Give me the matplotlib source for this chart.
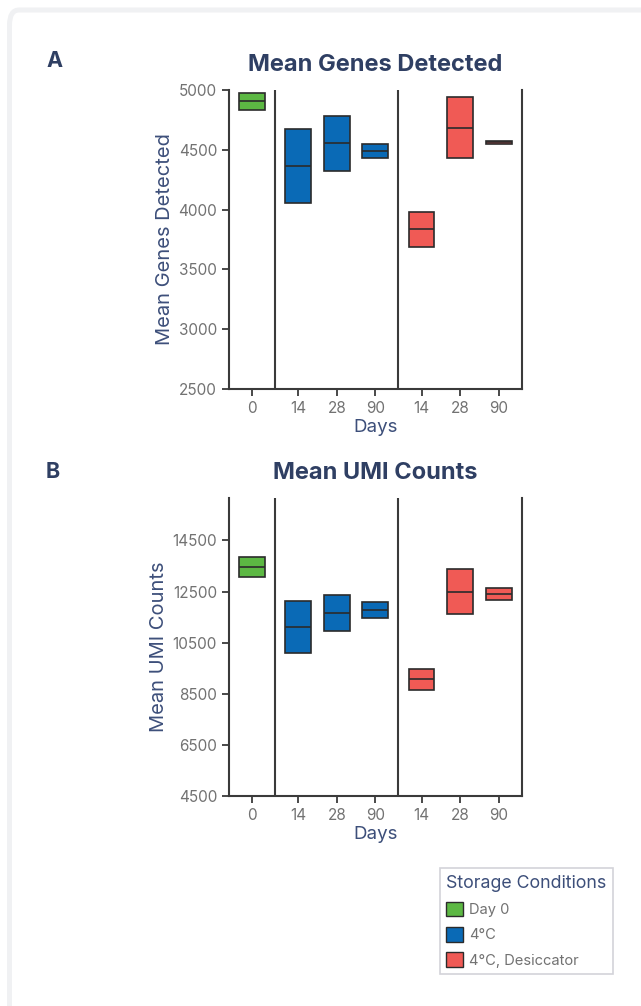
import matplotlib.pyplot as plt
from matplotlib.patches import FancyBboxPatch, Patch

plt.rcParams['font.family'] = ['Inter', 'DejaVu Sans']

DAYS = ['0', '14', '28', '90', '14', '28', '90']
CONDITIONS = ['Day 0', '4°C', '4°C, Desiccator']
GROUP = [0, 1, 1, 1, 2, 2, 2]
POSITIONS = [0, 1.2, 2.2, 3.2, 4.4, 5.4, 6.4]
DIVIDERS = [0.6, 3.8]

GENES_LOW = [4830, 4059, 4327, 4428, 3690, 4428, 4551]
GENES_MED = [4905, 4364, 4556, 4489, 3835, 4682, 4562]
GENES_HIGH = [4978, 4671, 4782, 4547, 3977, 4939, 4573]

UMI_LOW = [13051, 10101, 10963, 11484, 8640, 11617, 12166]
UMI_MED = [13457, 11132, 11668, 11798, 9071, 12491, 12401]
UMI_HIGH = [13862, 12150, 12361, 12099, 9486, 13364, 12636]

COLORS = ['#5cb843', '#0a6ab6', '#f05a55']
NAVY = '#2f3f63'
LABEL_BLUE = '#3d4f7a'
GRAY = '#727272'
DARK = '#3a3a3a'
W = 0.67


def draw_panel(ax, low, med, high, title, ylabel, ylim, ticks):
    for x, lo, md, hi, g in zip(POSITIONS, low, med, high, GROUP):
        ax.bar(x, hi - lo, bottom=lo, width=W, color=COLORS[g],
               edgecolor='#2b2b2b', linewidth=1.2, zorder=2)
        ax.hlines(md, x - W / 2, x + W / 2, color='#2b2b2b', lw=1.2, zorder=3)
    for d in DIVIDERS:
        ax.axvline(d, color=DARK, lw=1.5, zorder=1)
    ax.set_xlim(-0.6, 7.0)
    ax.set_ylim(*ylim)
    ax.set_yticks(ticks)
    ax.set_xticks(POSITIONS)
    ax.set_xticklabels(DAYS)
    ax.spines['top'].set_visible(False)
    for s in ['left', 'right', 'bottom']:
        ax.spines[s].set_color(DARK)
        ax.spines[s].set_linewidth(1.5)
    ax.tick_params(colors=DARK, labelcolor=GRAY, labelsize=11, length=5, width=1.3)
    ax.set_title(title, fontsize=17, fontweight='bold', color=NAVY, pad=14)
    ax.set_ylabel(ylabel, fontsize=14.5, color=LABEL_BLUE, labelpad=3)
    ax.set_xlabel('Days', fontsize=13.5, color=LABEL_BLUE, labelpad=2)


fig = plt.figure(figsize=(6.41, 10.06), dpi=100)
fig.patches.append(FancyBboxPatch((9.5 / 641, 1 - 1100 / 1006), 700 / 641, 1090 / 1006,
                                  boxstyle='round,pad=0,rounding_size=0.015',
                                  transform=fig.transFigure, facecolor='white',
                                  edgecolor='#f0f1f3', linewidth=3.6, zorder=-10))

ax1 = fig.add_axes([0.357, 0.6133, 0.457, 0.2972])
draw_panel(ax1, GENES_LOW, GENES_MED, GENES_HIGH, 'Mean Genes Detected',
           'Mean Genes Detected', (2500, 5000), range(2500, 5001, 500))

ax2 = fig.add_axes([0.357, 0.2087, 0.457, 0.296])
draw_panel(ax2, UMI_LOW, UMI_MED, UMI_HIGH, 'Mean UMI Counts',
           'Mean UMI Counts', (4500, 16150), range(4500, 14501, 2000))

fig.text(46 / 641, 1 - 61 / 1006, 'A', fontsize=15.5, fontweight='bold', color=NAVY, va='center')
fig.text(46 / 641, 1 - 472 / 1006, 'B', fontsize=15.5, fontweight='bold', color=NAVY, va='center')

handles = [Patch(facecolor=c, edgecolor='#2b2b2b', linewidth=1) for c in COLORS]
leg = fig.legend(handles, CONDITIONS, title='Storage Conditions',
                 loc='upper right', bbox_to_anchor=(613 / 641, 1 - 868 / 1006),
                 borderaxespad=0, prop={'size': 10.6},
                 title_fontproperties={'size': 12.8},
                 frameon=True, fancybox=False,
                 handlelength=1.15, handleheight=1.15, handletextpad=0.4,
                 labelspacing=0.68, borderpad=0.45, alignment='left')
leg.get_frame().set_edgecolor('#c8c8d0')
leg.get_frame().set_linewidth(1.2)
leg.get_title().set_color(LABEL_BLUE)
for t in leg.get_texts():
    t.set_color(GRAY)

fig.savefig('out.png', dpi=100, facecolor='white')
